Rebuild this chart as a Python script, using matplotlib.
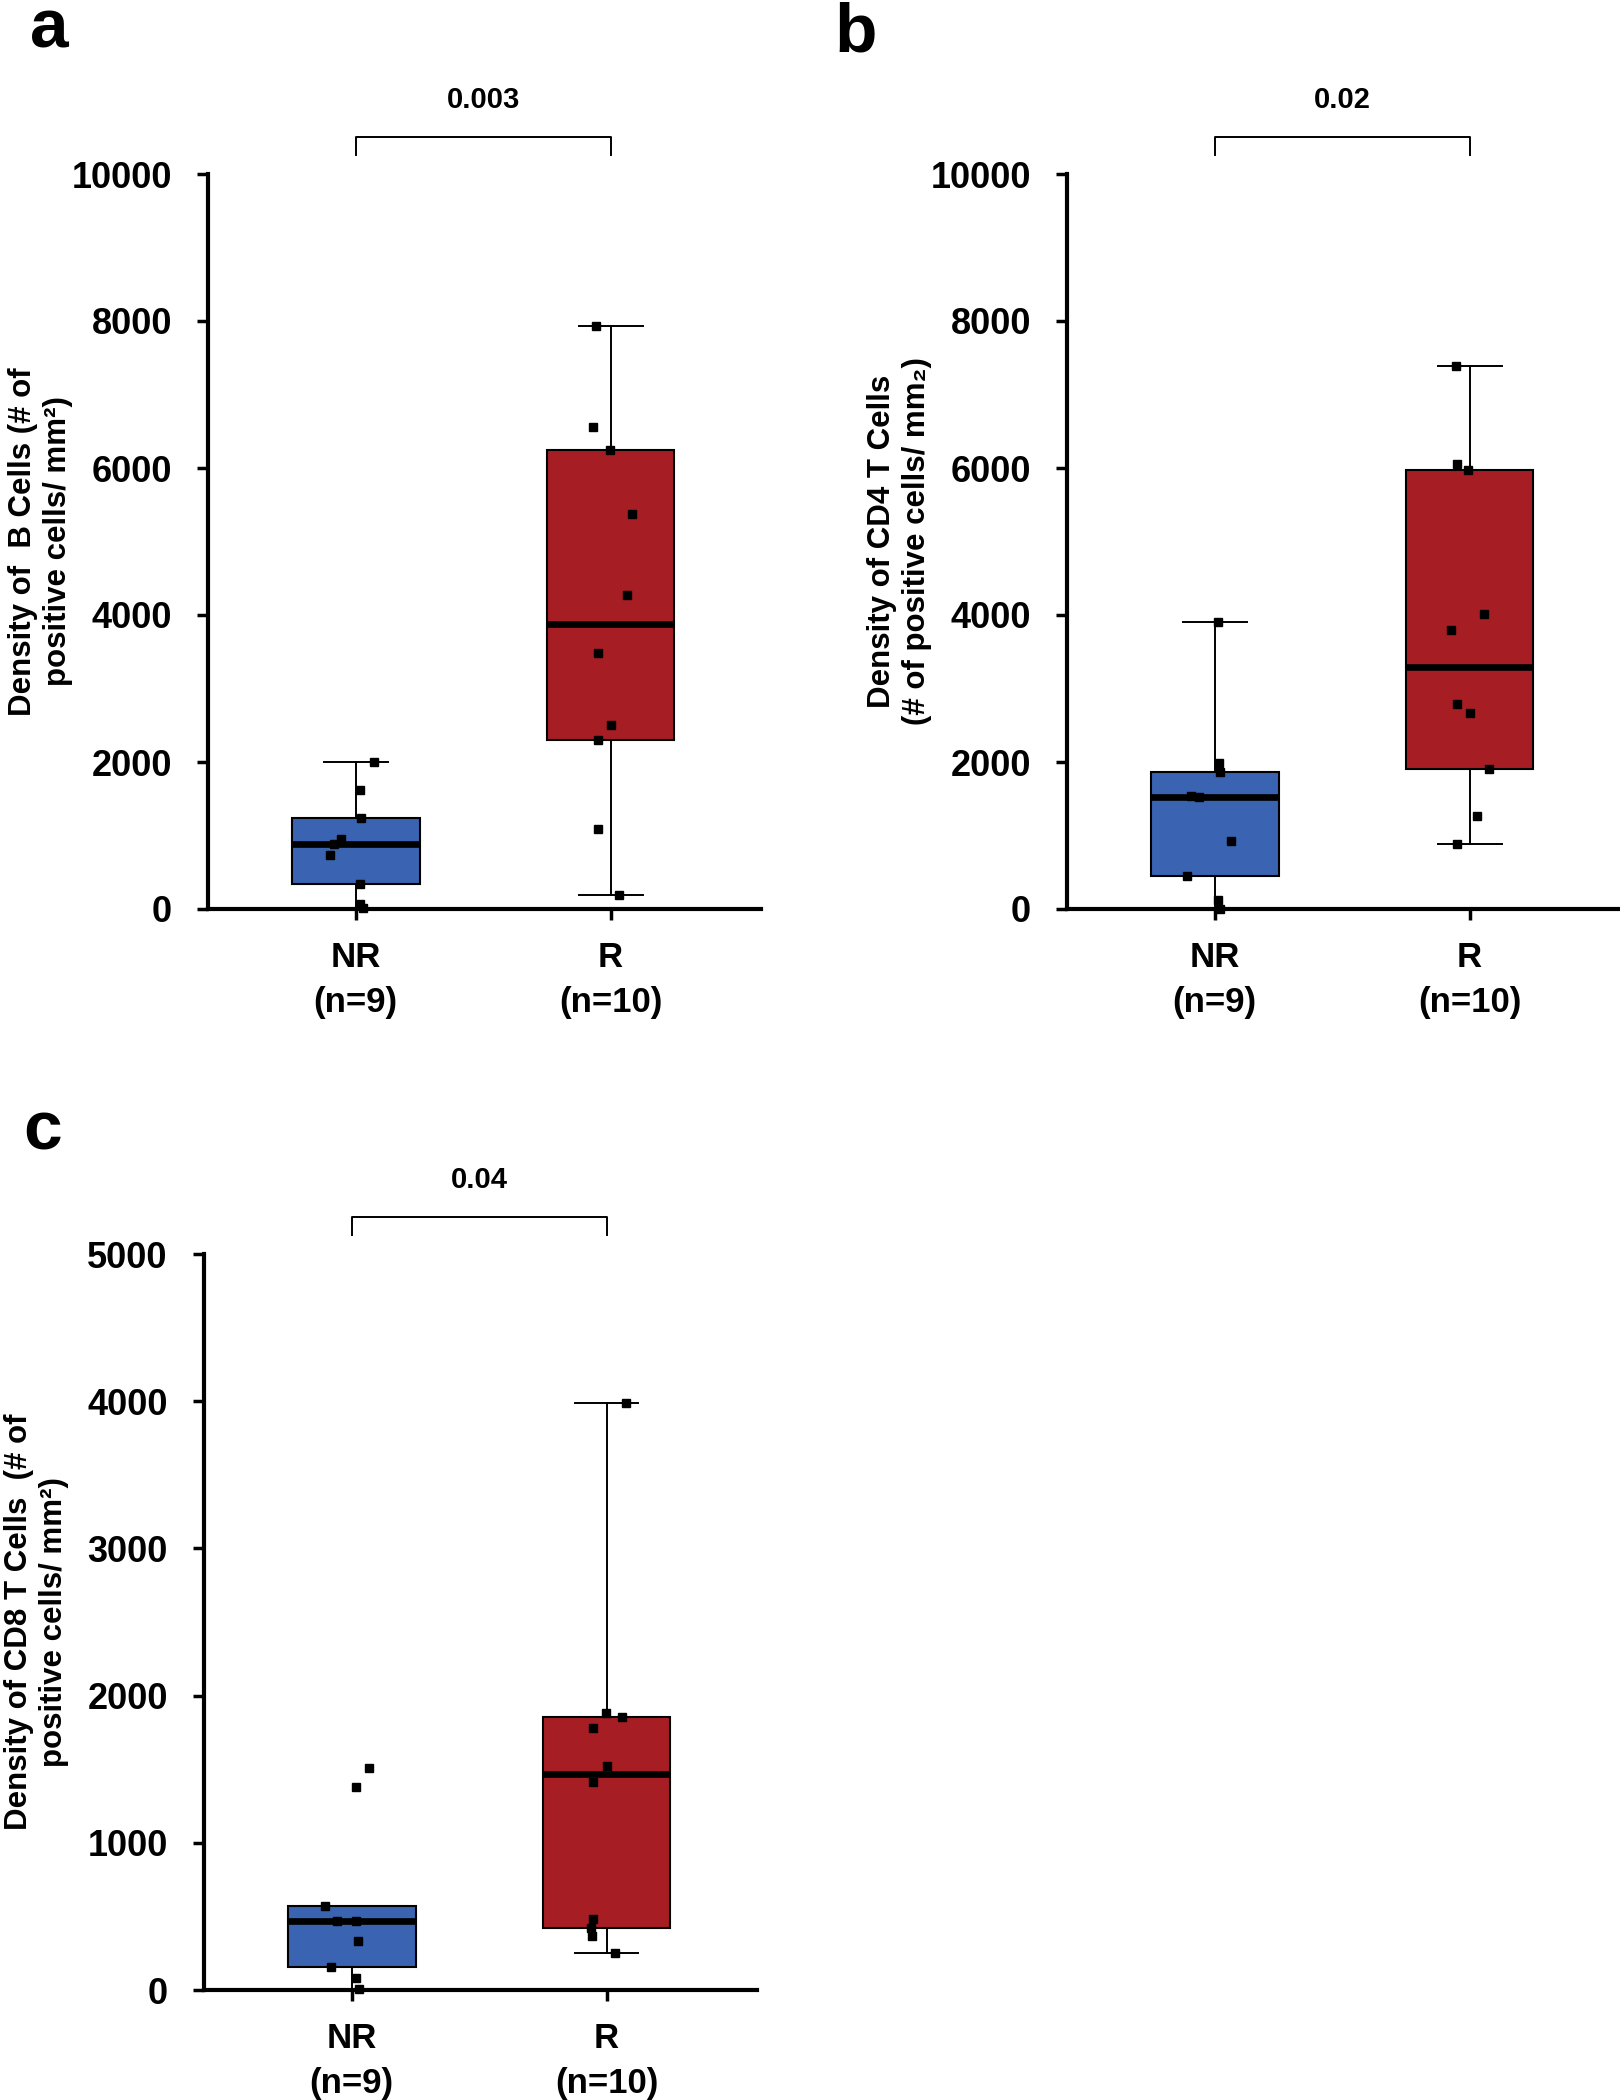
import numpy as np
import matplotlib.pyplot as plt

plt.rcParams['font.family'] = ['Liberation Sans', 'DejaVu Sans']
plt.rcParams['font.weight'] = 'bold'

groups = ["NR\n(n=9)", "R\n(n=10)"]

# cell densities (# positive cells / mm2)
b_cells_nr = [2000, 1613, 1240, 957, 884, 729, 337, 64, 10]
b_cells_r = [7931, 6563, 6244, 5378, 4275, 3482, 2498, 2297, 1085, 191]
cd4_nr = [3905, 1989, 1870, 1533, 1520, 922, 447, 119, 5]
cd4_r = [7391, 6058, 5976, 4015, 3796, 2783, 2673, 1907, 1268, 885]
cd8_nr = [1508, 1379, 570, 469, 469, 336, 159, 84, 5]
cd8_r = [3990, 1883, 1852, 1777, 1521, 1410, 482, 424, 367, 248]

# horizontal jitter of the dots (same order as the values)
jit_b_nr = [0.07, 0.016, 0.022, -0.058, -0.084, -0.10, 0.018, 0.018, 0.028]
jit_b_r = [-0.056, -0.07, -0.004, 0.082, 0.064, -0.05, 0.002, -0.05, -0.05, 0.032]
jit_cd4_nr = [0.014, 0.018, 0.02, -0.094, -0.061, 0.064, -0.109, 0.014, 0.02]
jit_cd4_r = [-0.055, -0.051, -0.006, 0.057, -0.074, -0.051, 0.0, 0.076, 0.029, -0.051]
jit_cd8_nr = [0.066, 0.016, -0.104, -0.058, 0.018, 0.026, -0.08, 0.016, 0.03]
jit_cd8_r = [0.076, -0.004, 0.06, -0.052, 0.0, -0.052, -0.052, -0.062, -0.056, 0.032]

p_values = ["0.003", "0.02", "0.04"]
ylabels = ["Density of  B Cells (# of\npositive cells/ mm\u00b2)",
           "Density of CD4 T Cells\n(# of positive cells/ mm\u2082)",
           "Density of CD8 T Cells  (# of\npositive cells/ mm\u00b2)"]

BLUE = "#3A63B1"
RED = "#A61E24"
W, H = 1620, 2100


def tukey_stats(vals):
    v = np.sort(np.asarray(vals, dtype=float))
    n = len(v)
    half = (n + 1) // 2
    q1 = np.median(v[:half])
    q3 = np.median(v[n - half:])
    iqr = q3 - q1
    return dict(med=np.median(v), q1=q1, q3=q3,
                whislo=v[v >= q1 - 1.5 * iqr].min(),
                whishi=v[v <= q3 + 1.5 * iqr].max(),
                fliers=[])


def panel(rect, nr, r, jnr, jr, ymax, ystep, pval, ylabel):
    ax = fig.add_axes(rect)
    stats = [tukey_stats(nr), tukey_stats(r)]
    bp = ax.bxp(stats, positions=[1, 2], widths=0.5, patch_artist=True,
                showfliers=False, capwidths=0.25,
                boxprops=dict(linewidth=1.5, edgecolor="black"),
                medianprops=dict(color="black", linewidth=4.8),
                whiskerprops=dict(color="black", linewidth=1.4),
                capprops=dict(color="black", linewidth=1.4))
    for patch, c in zip(bp["boxes"], [BLUE, RED]):
        patch.set_facecolor(c)

    for pos, vals, jit in [(1, nr, jnr), (2, r, jr)]:
        ax.plot(pos + np.array(jit), vals, "s", color="black", ms=6,
                zorder=5, clip_on=False)

    ax.set_xlim(0.42, 2.59)
    ax.set_ylim(0, ymax)
    ax.set_yticks(np.arange(0, ymax + 1, ystep))
    ax.set_xticks([1, 2])
    for lbl in ax.set_xticklabels(groups):
        lbl.set_linespacing(1.45)

    for s in ["top", "right"]:
        ax.spines[s].set_visible(False)
    for s in ["left", "bottom"]:
        ax.spines[s].set_linewidth(3)
    ax.tick_params(axis="both", direction="out", length=8, width=2.5)
    ax.tick_params(axis="y", labelsize=26, pad=18)
    ax.tick_params(axis="x", labelsize=25, pad=15)

    # significance bracket
    top = ymax * 1.0503
    leg = ymax * 1.0258
    ax.plot([1, 1, 2, 2], [leg, top, top, leg], color="black", lw=1.4,
            clip_on=False)
    ax.text(1.5, ymax * 1.1, pval, ha="center", va="center", fontsize=21,
            fontweight="bold")

    ax.set_ylabel(ylabel, fontsize=22.5, fontweight="bold")
    ax.yaxis.set_label_coords(-0.303, 0.5)
    ax.yaxis.label.set_verticalalignment("center")
    return ax


fig = plt.figure(figsize=(W / 100, H / 100), dpi=100)

panel([208 / W, (H - 909) / H, 553 / W, 735 / H], b_cells_nr, b_cells_r,
      jit_b_nr, jit_b_r, 10000, 2000, p_values[0], ylabels[0])
panel([1067 / W, (H - 909) / H, 553 / W, 735 / H], cd4_nr, cd4_r,
      jit_cd4_nr, jit_cd4_r, 10000, 2000, p_values[1], ylabels[1])
panel([204 / W, (H - 1990) / H, 553 / W, 736 / H], cd8_nr, cd8_r,
      jit_cd8_nr, jit_cd8_r, 5000, 1000, p_values[2], ylabels[2])

for letter, x, y in [("a", 30, 48), ("b", 834, 52), ("c", 23, 1149)]:
    fig.text(x / W, 1 - y / H, letter, fontsize=50, fontweight="bold",
             va="baseline", ha="left")

fig.savefig("out.png", dpi=100)
